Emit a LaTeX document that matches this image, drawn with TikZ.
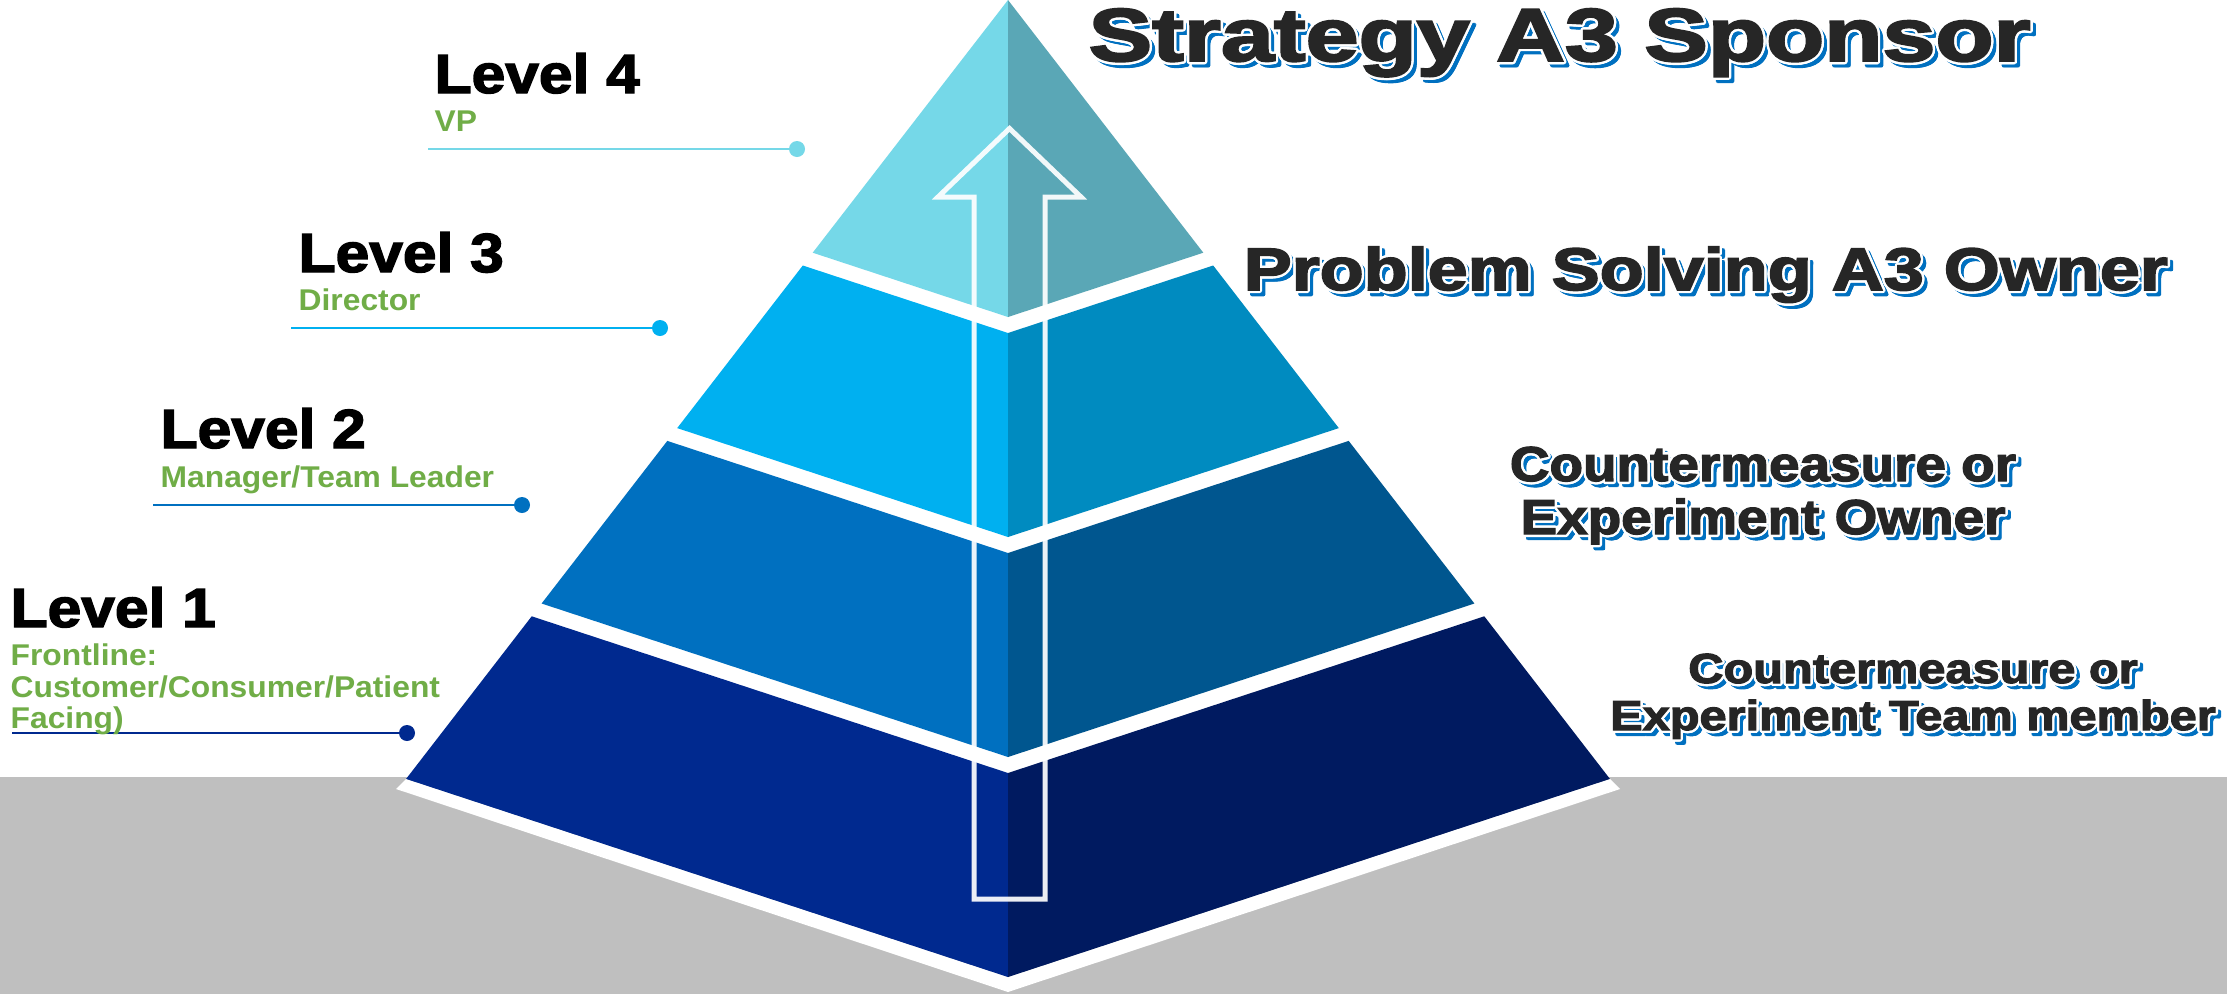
\documentclass[tikz,border=0pt]{standalone}
\usepackage{fontspec}
\setmainfont{Liberation Sans}
\newfontfamily\heavyfont[FakeBold=2.5]{Liberation Sans Bold}
\newfontfamily\boldfont{Liberation Sans Bold}
\usetikzlibrary{calc}
\definecolor{lfourL}{HTML}{75D8E8}
\definecolor{lfourR}{HTML}{5AA7B6}
\definecolor{lthreeL}{HTML}{00B0F0}
\definecolor{lthreeR}{HTML}{008BC0}
\definecolor{ltwoL}{HTML}{0070C0}
\definecolor{ltwoR}{HTML}{00568F}
\definecolor{loneL}{HTML}{00298F}
\definecolor{loneR}{HTML}{001A60}
\definecolor{floorgray}{HTML}{BFBFBF}
\definecolor{subgreen}{HTML}{70AD47}
\definecolor{titlegray}{HTML}{262626}
\definecolor{shblue}{HTML}{0070C0}
\newcommand\tfont[1]{\heavyfont\fontsize{#1}{#1}\selectfont}
\newcommand\fancytext[4]{%
  \foreach \ang in {0,45,...,315}{\node[anchor=#2,inner sep=0,text=shblue] at ($(#1)+(4,4)+(\ang:1.5)$) {#3};}
  \foreach \ang in {0,22.5,...,337.5}{\node[anchor=#2,inner sep=0,text=white] at ($(#1)+(\ang:2.4)$) {#3};}
  \node[anchor=#2,inner sep=0,text=titlegray] (#4) at (#1) {#3};
}
\tikzset{
  lvl/.style={anchor=base west,inner sep=0,text=black,font=\heavyfont\fontsize{16.5}{16.5}\selectfont},
  sublbl/.style={anchor=base west,inner sep=0,text=subgreen,font=\boldfont\fontsize{9}{9}\selectfont},
  leader/.style={line width=0.75pt},
  dotmark/.style={circle,inner sep=0,minimum size=4.8pt},
}
\begin{document}
\begin{tikzpicture}[x=0.3pt,y=-0.3pt]
\useasboundingbox (0,0) rectangle (2227,994);
\fill[white] (0,0) rectangle (2227,994);
\fill[floorgray] (0,777) rectangle (2227,994);
% white base band
\fill[white] (406.1,778.9) -- (396,789) -- (1008,992) -- (1620,789) -- (1609.9,778.9) -- (1008,977) -- cycle;
% layer 4
\fill[lfourL] (1008,0) -- (1008,317) -- (812.7,252.7) -- cycle;
\fill[lfourR] (1008,0) -- (1008,317) -- (1203.3,252.7) -- cycle;
% layer 3
\fill[lthreeL] (802.8,265.5) -- (1008,333) -- (1008,537) -- (677.2,428.1) -- cycle;
\fill[lthreeR] (1213.2,265.5) -- (1008,333) -- (1008,537) -- (1338.8,428.1) -- cycle;
% layer 2
\fill[ltwoL] (667.3,440.9) -- (1008,553) -- (1008,757) -- (541.6,603.5) -- cycle;
\fill[ltwoR] (1348.7,440.9) -- (1008,553) -- (1008,757) -- (1474.4,603.5) -- cycle;
% layer 1
\fill[loneL] (531.7,616.3) -- (1008,773) -- (1008,977) -- (406.1,778.9) -- cycle;
\fill[loneR] (1484.3,616.3) -- (1008,773) -- (1008,977) -- (1609.9,778.9) -- cycle;
% arrow
\draw[white,line width=1.5pt,opacity=0.92,line join=miter]
  (974,899) -- (974,197) -- (938,197) -- (1009.5,128.5) -- (1081,197) -- (1045,197) -- (1045,899) -- cycle;
% leader lines
\coordinate (s4) at (428,149);
\node[dotmark,fill=lfourL] (d4) at (797,149) {};
\draw[leader,lfourL] (s4) -- (d4.center);
\coordinate (s3) at (291,328);
\node[dotmark,fill=lthreeL] (d3) at (660,328) {};
\draw[leader,lthreeL] (s3) -- (d3.center);
\coordinate (s2) at (153,505);
\node[dotmark,fill=ltwoL] (d2) at (522,505) {};
\draw[leader,ltwoL] (s2) -- (d2.center);
\coordinate (s1) at (12,733);
\node[dotmark,fill=loneL] (d1) at (407,733) {};
\draw[leader,loneL] (s1) -- (d1.center);
% left labels
\node[lvl] (lv4) at (434,93) {\scalebox{1.1}[1]{Level 4}};
\node[sublbl] (vp) at (434,131) {\scalebox{1.06}[1]{VP}};
\node[lvl] (lv3) at (298,272) {\scalebox{1.1}[1]{Level 3}};
\node[sublbl] (dir) at (298,310) {\scalebox{1.06}[1]{Director}};
\node[lvl] (lv2) at (160,448) {\scalebox{1.1}[1]{Level 2}};
\node[sublbl] (mgr) at (160,487) {\scalebox{1.06}[1]{Manager/Team Leader}};
\node[lvl] (lv1) at (10,627) {\scalebox{1.1}[1]{Level 1}};
\node[sublbl] (fl1) at (10,665) {\scalebox{1.06}[1]{Frontline:}};
\node[sublbl] (fl2) at (10,697) {\scalebox{1.06}[1]{Customer/Consumer/Patient}};
\node[sublbl] (fl3) at (10,728) {\scalebox{1.06}[1]{Facing)}};
% right titles
\fancytext{1088,61}{base west}{\tfont{22.5}\scalebox{1.27}[1]{Strategy A3 Sponsor}}{tstrat}
\fancytext{1243,290}{base west}{\tfont{18}\scalebox{1.2}[1]{Problem Solving A3 Owner}}{tprob}
\fancytext{1763,481}{base}{\tfont{14.7}\scalebox{1.12}[1]{Countermeasure or}}{tcm1}
\fancytext{1763,534}{base}{\tfont{14.7}\scalebox{1.12}[1]{Experiment Owner}}{tex1}
\fancytext{1913,683}{base}{\tfont{12.6}\scalebox{1.16}[1]{Countermeasure or}}{tcm2}
\fancytext{1913,730}{base}{\tfont{12.6}\scalebox{1.16}[1]{Experiment Team member}}{tex2}
\end{tikzpicture}
\end{document}
